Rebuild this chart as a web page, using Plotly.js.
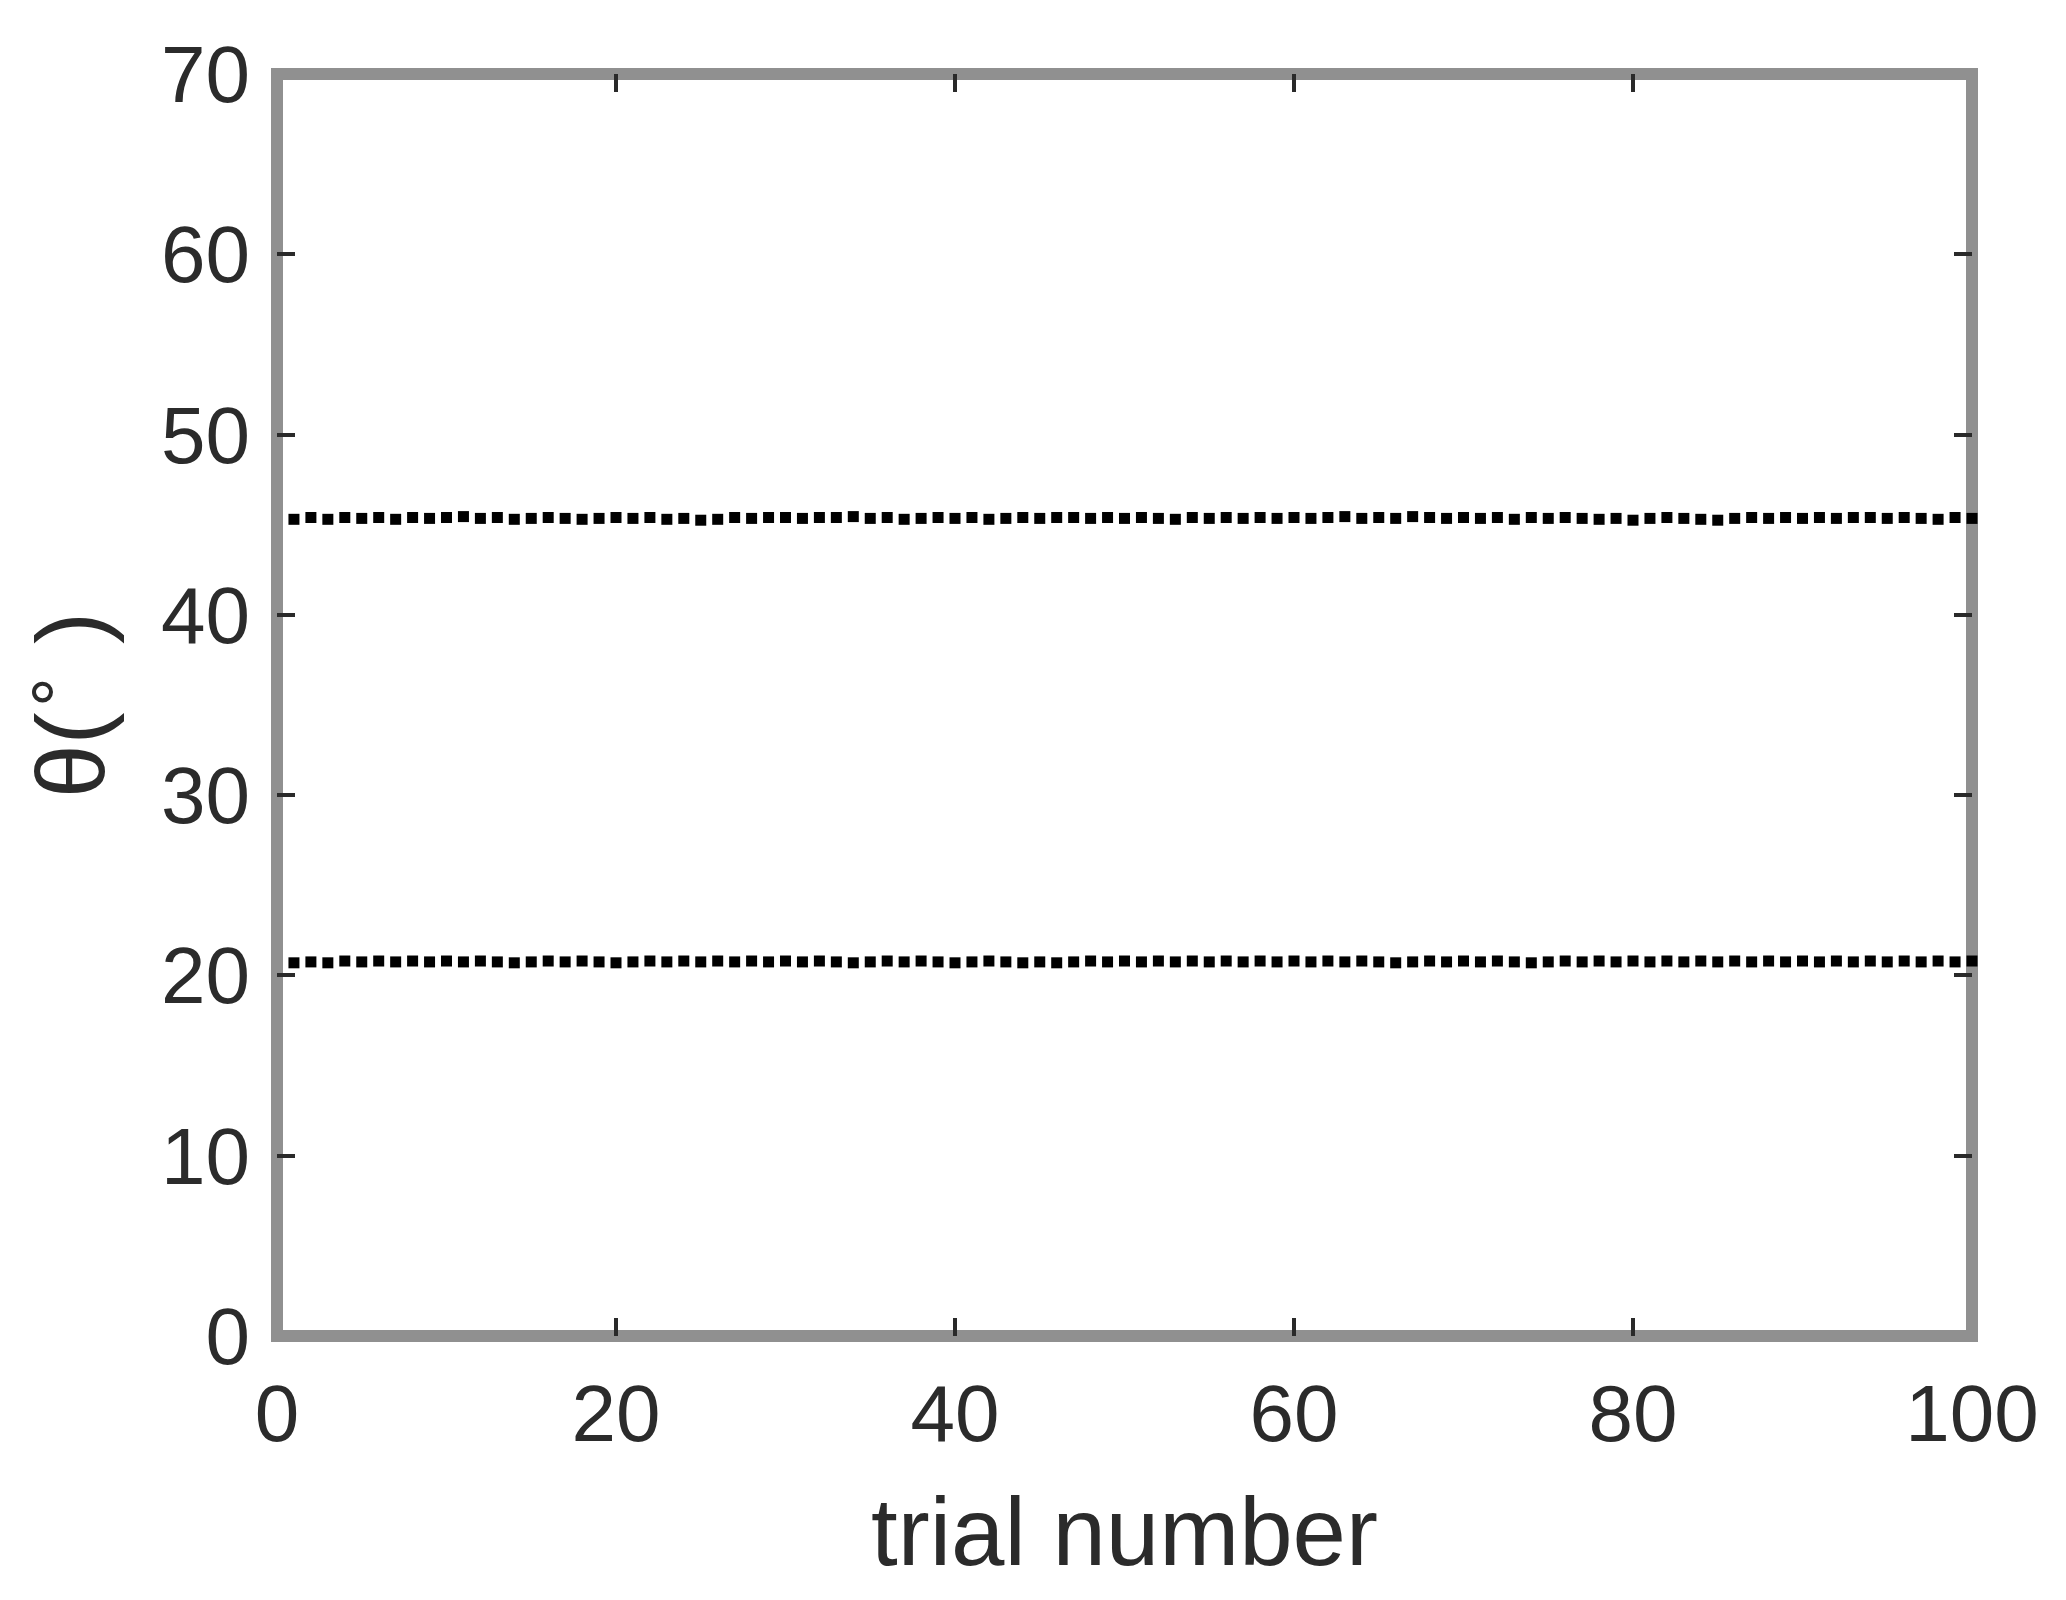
<!DOCTYPE html>
<html>
<head>
<meta charset="utf-8">
<script src="https://cdn.plot.ly/plotly-3.0.1.min.js"></script>
<style>html,body{margin:0;padding:0;background:#fff;}#chart{width:2066px;height:1600px;}</style>
</head>
<body>
<div id="chart"></div>
<script>
// trial numbers 1..100
const trials = [1,2,3,4,5,6,7,8,9,10,11,12,13,14,15,16,17,18,19,20,21,22,23,24,25,26,27,28,29,30,31,32,33,34,35,36,37,38,39,40,41,42,43,44,45,46,47,48,49,50,51,52,53,54,55,56,57,58,59,60,61,62,63,64,65,66,67,68,69,70,71,72,73,74,75,76,77,78,79,80,81,82,83,84,85,86,87,88,89,90,91,92,93,94,95,96,97,98,99,100];
// upper cluster of theta estimates (degrees)
const thetaUpper = [45.30,45.40,45.30,45.40,45.35,45.40,45.30,45.40,45.35,45.40,45.45,45.35,45.40,45.30,45.35,45.40,45.35,45.30,45.35,45.40,45.35,45.40,45.30,45.35,45.25,45.30,45.40,45.35,45.40,45.40,45.35,45.40,45.40,45.45,45.35,45.40,45.30,45.35,45.40,45.35,45.40,45.30,45.35,45.40,45.35,45.40,45.40,45.35,45.40,45.35,45.40,45.35,45.30,45.40,45.35,45.40,45.35,45.40,45.35,45.40,45.35,45.40,45.45,45.35,45.40,45.35,45.45,45.40,45.35,45.40,45.35,45.40,45.30,45.40,45.35,45.40,45.35,45.30,45.35,45.25,45.35,45.40,45.35,45.30,45.25,45.35,45.40,45.35,45.40,45.35,45.40,45.35,45.40,45.40,45.35,45.40,45.35,45.30,45.40,45.35];
// lower cluster of theta estimates (degrees)
const thetaLower = [20.70,20.75,20.70,20.80,20.75,20.80,20.75,20.80,20.75,20.80,20.75,20.80,20.75,20.70,20.75,20.80,20.75,20.80,20.75,20.70,20.75,20.80,20.75,20.80,20.75,20.80,20.75,20.80,20.75,20.80,20.75,20.80,20.75,20.70,20.75,20.80,20.75,20.80,20.75,20.70,20.75,20.80,20.75,20.70,20.75,20.70,20.75,20.80,20.75,20.80,20.75,20.80,20.75,20.80,20.75,20.80,20.75,20.80,20.75,20.80,20.75,20.80,20.75,20.80,20.75,20.70,20.75,20.80,20.75,20.80,20.75,20.80,20.75,20.70,20.75,20.80,20.75,20.80,20.75,20.80,20.75,20.80,20.75,20.80,20.75,20.80,20.75,20.80,20.75,20.80,20.75,20.80,20.75,20.80,20.75,20.80,20.75,20.80,20.75,20.80];
const xTicks = [0,20,40,60,80,100];
const yTicks = [0,10,20,30,40,50,60,70];

const mk = {symbol:'square', size:11, color:'#000', line:{width:0}};
const traces = [
  {x: trials, y: thetaUpper, type:'scatter', mode:'markers', marker: mk, showlegend:false, cliponaxis:false},
  {x: trials, y: thetaLower, type:'scatter', mode:'markers', marker: mk, showlegend:false, cliponaxis:false}
];
const fontFam = '"Liberation Sans", Arial, sans-serif';
const axCommon = {
  showgrid:false, zeroline:false, showline:false,
  ticks:'inside', ticklen:18, tickwidth:4, tickcolor:'#2a2a2a', mirror:'ticks',
  tickfont:{family:fontFam, size:80, color:'#2b2b2b'}
};
const layout = {
  width:2066, height:1600,
  margin:{l:277, r:94, t:74, b:264, pad:0},
  paper_bgcolor:'#fff', plot_bgcolor:'#fff',
  xaxis: Object.assign({}, axCommon, {
    range:[0,100], tickmode:'array', tickvals:xTicks, ticktext:xTicks.map(String),
    ticklabelstandoff:24,
    title:{text:'trial number', font:{family:fontFam, size:96, color:'#2b2b2b'}, standoff:40}
  }),
  yaxis: Object.assign({}, axCommon, {
    range:[0,70], tickmode:'array', tickvals:yTicks, ticktext:yTicks.map(String),
    ticklabelstandoff:26,
    title:{text:'θ(<sup>∘</sup> )', font:{family:fontFam, size:96, color:'#2b2b2b'}, standoff:24}
  }),
  shapes:[{type:'rect', xref:'paper', yref:'paper', x0:0, x1:1, y0:0, y1:1, line:{color:'#909090', width:12}, layer:'below'}]
};
Plotly.newPlot('chart', traces, layout, {staticPlot:true});
</script>
</body>
</html>
